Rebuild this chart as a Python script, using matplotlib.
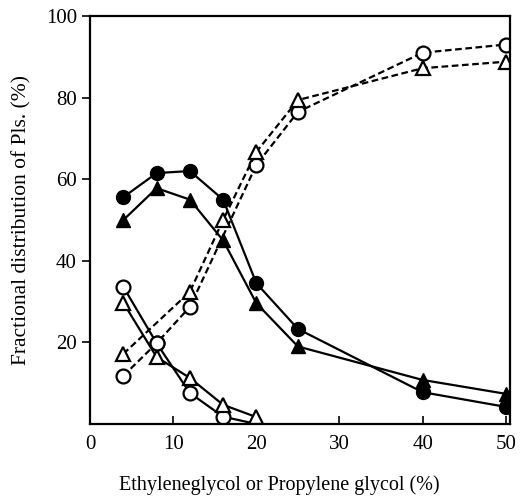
import numpy as np
import matplotlib
matplotlib.use('Agg')
from matplotlib import pyplot as plt

# glycol concentration (%)
x_all = [4, 8, 12, 16, 20, 25, 40, 50]

# filled circles / filled triangles (solid lines)
fc_y = [55.6, 61.5, 62.0, 55.0, 34.5, 23.3, 7.8, 4.2]
ft_y = [50.0, 57.8, 55.0, 45.0, 29.6, 19.0, 10.8, 7.4]

# open symbols rising (dashed lines)
oc_rise_x = [4, 8, 12, 20, 25, 40, 50]
oc_rise_y = [11.8, 19.8, 28.7, 63.5, 76.5, 91.0, 93.0]
ot_rise_x = [4, 12, 16, 20, 25, 40, 50]
ot_rise_y = [17.2, 32.4, 50.0, 66.7, 79.4, 87.2, 88.8]

# open symbols falling (solid lines)
oc_fall_x = [4, 8, 12, 16, 20]
oc_fall_y = [33.6, 19.8, 7.6, 1.8, 0.0]
ot_fall_x = [4, 8, 12, 16, 20]
ot_fall_y = [29.7, 16.4, 11.3, 4.7, 1.7]

plt.rcParams.update({'font.family': 'Liberation Serif', 'font.size': 14})

fig = plt.figure(figsize=(5.24, 5.0), dpi=100)
ax = fig.add_axes([0.172, 0.152, 0.801, 0.816])

ms = 10
kw = dict(color='black', lw=1.6)
dash = dict(color='black', lw=1.6, ls=(0, (3, 1.6)))

ax.plot(x_all, fc_y, marker='o', ms=ms, mfc='black', mec='black', **kw)
ax.plot(x_all, ft_y, marker='^', ms=ms, mfc='black', mec='black', **kw)
ax.plot(oc_fall_x, oc_fall_y, marker='o', ms=ms, mfc='white', mec='black',
        mew=1.6, markevery=[0, 1, 2, 3], **kw)
ax.plot(ot_fall_x, ot_fall_y, marker='^', ms=ms, mfc='white', mec='black', mew=1.6, **kw)
ax.plot(oc_rise_x, oc_rise_y, marker='o', ms=ms, mfc='white', mec='black', mew=1.6, **dash)
ax.plot(ot_rise_x, ot_rise_y, marker='^', ms=ms, mfc='white', mec='black', mew=1.6, **dash)

ax.set_xlim(0, 50.5)
ax.set_ylim(0, 100)
ax.set_xticks([0, 10, 20, 30, 40, 50])
ax.set_yticks([20, 40, 60, 80, 100])
ax.tick_params(axis='x', direction='in', length=6, width=1.2, pad=8, labelsize=15)
ax.tick_params(axis='y', direction='out', length=6, width=1.2, labelsize=15)
for s in ax.spines.values():
    s.set_linewidth(1.6)

ax.set_xlabel('Ethyleneglycol or Propylene glycol (%)', fontsize=14.5)
ax.xaxis.set_label_coords(0.45, -0.125)
ax.set_ylabel('Fractional distribution of Pls. (%)', fontsize=15.5)
ax.yaxis.set_label_coords(-0.14, 0.5)

fig.savefig('out.png', dpi=100)
